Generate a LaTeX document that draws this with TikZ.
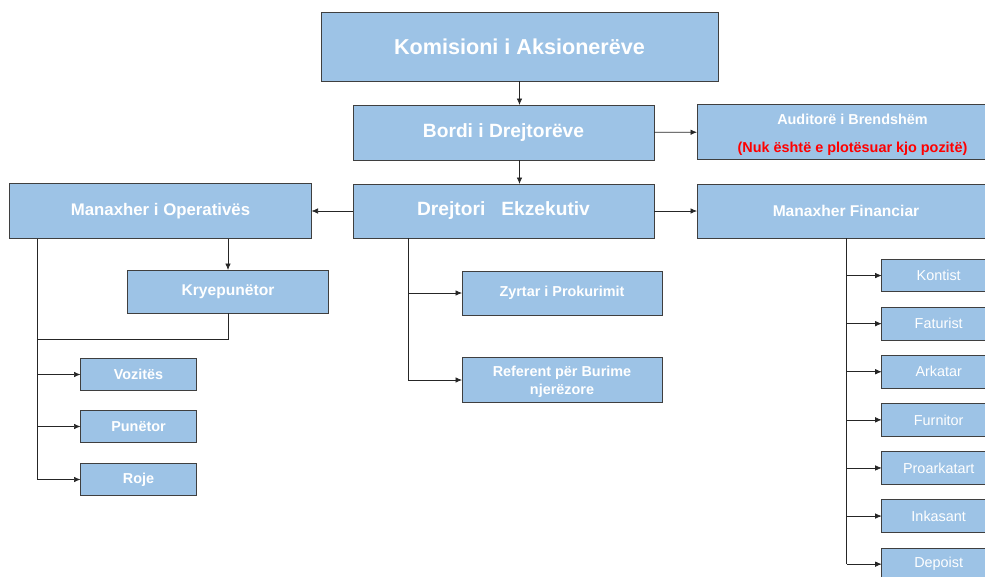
\documentclass[tikz,border=0pt]{standalone}
\usepackage{fontspec}
\setmainfont{Liberation Sans}
\usetikzlibrary{arrows,positioning}
\usetikzlibrary{arrows.meta}
\definecolor{boxBlue}{HTML}{9DC3E6}
\definecolor{lineGrey}{HTML}{3F3F3F}
\definecolor{noteRed}{HTML}{FF0000}
\newcommand{\fsTop}{\fontsize{21.6}{26}\selectfont\bfseries}
\newcommand{\fsBoard}{\fontsize{19.2}{23}\selectfont\bfseries}
\newcommand{\fsMgr}{\fontsize{16.8}{20}\selectfont\bfseries}
\newcommand{\fsMid}{\fontsize{15.6}{19}\selectfont\bfseries}
\newcommand{\fsSmall}{\fontsize{14.4}{18.3}\selectfont\bfseries}
\newcommand{\fsPlain}{\fontsize{14.4}{17}\selectfont}

\begin{document}
\begin{tikzpicture}[x=1pt,y=-1pt,>={Latex[length=6.5pt,width=5.5pt]},every node/.append style={align=center},box/.style={draw=lineGrey, line width=0.8pt, fill=boxBlue, text=white, anchor=north west, inner sep=0pt, outer sep=0pt},link/.style={draw=black!85, line width=0.7pt},]
    \useasboundingbox (0,0) rectangle (985,576);
    \clip (0,0) rectangle (985,576);
    % top of the chart
    \node [box, minimum width=397pt, minimum height=69pt, font=\fsTop] (kom) at (321,12) {Komisioni i Aksionerëve};
    \node [box, minimum width=301pt, minimum height=55pt, font=\fsBoard] (bord) at (353,105) {Bordi i Drejtorëve};
    \node [box, minimum width=301pt, minimum height=54pt, font=\fsBoard] (drej) at (353,184) {Drejtori\ \ \ Ekzekutiv};
    \node [box, minimum width=311pt, minimum height=55pt, font=\fsSmall] (aud) at (697,104.5) {\rule{0pt}{16pt}Auditorë i Brendshëm\\[10pt]{\color{noteRed}(Nuk është e plotësuar kjo pozitë)}};
    \node [box, minimum width=298pt, minimum height=54pt, font=\fsMid] (fin) at (697,184) {Manaxher Financiar};
    \node [box, minimum width=302pt, minimum height=55pt, font=\fsMgr] (ops) at (9.5,183.5) {Manaxher i Operativës};
    \draw[link,->] (kom.south) -- (kom.south |- bord.north);
    \draw[link,->] (kom.south |- bord.south) -- (kom.south |- drej.north);
    \draw[link,->] (bord) -- (aud);
    \draw[link,->] (drej) -- (fin);
    \draw[link,->] (drej) -- (ops);
    % operations side
    \node [box, minimum width=201pt, minimum height=43pt, font=\fsMid] (kry) at (127.5,270) {Kryepunëtor};
    \draw[link,->] (ops.south -| kry.north) -- (kry.north);
    \coordinate (opsbus) at (37.5,238.5);
    \coordinate (opsjoin) at (37.5,339.5);
    \draw[link] (kry.south) |- (opsjoin);
    \foreach \nm/\lbl/\top in {voz/Vozitës/358.5, pun/Punëtor/410.5, roj/Roje/463.5} {
        \node [box, minimum width=116pt, minimum height=32pt, font=\fsSmall] (\nm) at (80.5,\top) {\lbl};
        \draw[link,->] (opsbus |- \nm.west) -- (\nm.west);
    }
    \draw[link] (opsbus) -- (opsbus |- roj.west);
    % executive staff
    \node [box, minimum width=200pt, minimum height=44pt, font=\fsSmall] (zyr) at (462,271) {Zyrtar i Prokurimit};
    \node [box, minimum width=200pt, minimum height=45pt, font=\fsSmall] (ref) at (462,357.5) {\rule{0pt}{14pt}Referent për Burime\\njerëzore};
    \coordinate (drejbus) at (408,238);
    \draw[link,->] (drejbus) |- (ref.west);
    \draw[link,->] (drejbus |- zyr.west) -- (zyr.west);
    % finance staff
    \coordinate (finbus) at (846.5,238);
    \foreach \nm/\lbl [count=\i from 0] in {kon/Kontist, fat/Faturist, ark/Arkatar, fur/Furnitor, pro/Proarkatart, ink/Inkasant, dep/Depoist} {
        \node [box, minimum width=114pt, minimum height=32.5pt, font=\fsPlain] (\nm) at (881.7,{259.3+48.1*\i}) {\lbl};
        \draw[link,->] (finbus |- \nm.west) -- (\nm.west);
    }
    \draw[link] (finbus) -- (finbus |- dep.west);
\end{tikzpicture}
\end{document}
